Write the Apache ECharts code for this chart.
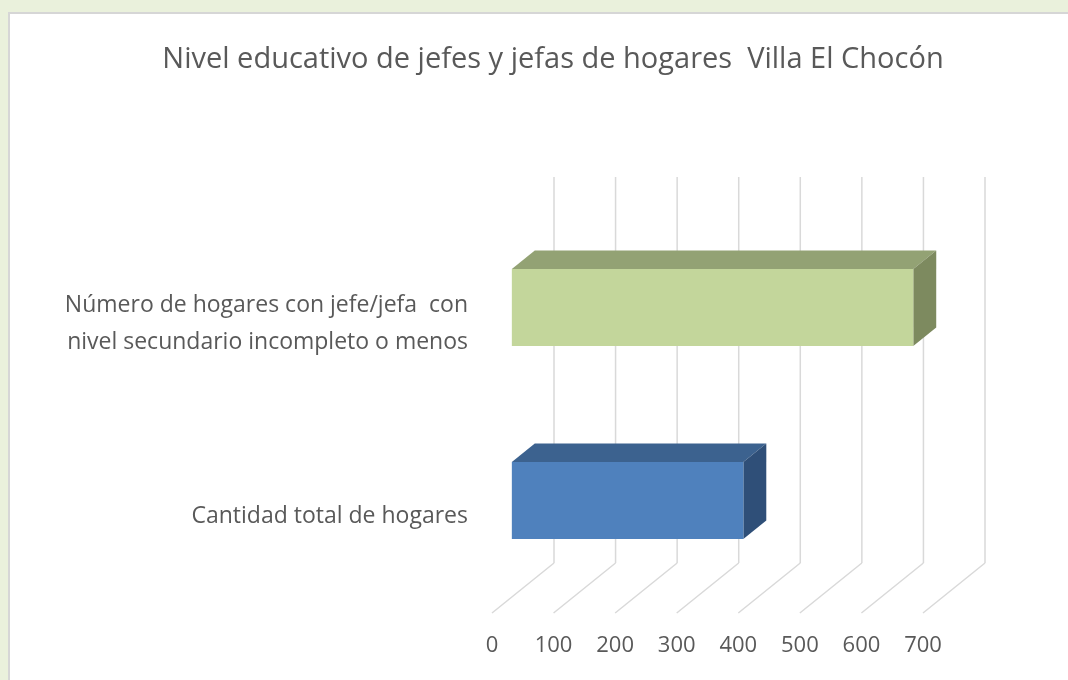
<!DOCTYPE html>
<html>
<head>
<meta charset="utf-8">
<script src="https://cdn.jsdelivr.net/npm/echarts@6/dist/echarts.min.js"></script>
<style>
    html, body {
        margin: 0;
        padding: 0;
        background: #eaf1dc;
    }
    #frame {
        position: absolute;
        left: 8px;
        top: 12px;
        width: 1080px;
        height: 680px;
        background: #fff;
        border: 2px solid #d6d6d6;
    }
    #chart {
        position: absolute;
        left: 0;
        top: 0;
        width: 1068px;
        height: 680px;
    }
</style>
</head>
<body>
<div id="frame"></div>
<div id="chart"></div>
<script>
    // datos
    var categorias = ['Cantidad total de hogares', 'Número de hogares con jefe/jefa  con\nnivel secundario incompleto o menos'];
    var valores = [376, 652];
    var ticks = [0, 100, 200, 300, 400, 500, 600, 700];

    var caraFrente = ['#4f81bd', '#c3d69b'];
    var caraArriba = ['#3c628f', '#93a274'];
    var caraLado = ['#2f4f78', '#7d8a5f'];

    // profundidad de la vista 3D (del frente al fondo)
    var DX = 62, DY = -50;
    var BAR_FRONT = 0.32, BAR_BACK = 0.69;

    var myChart = echarts.init(document.getElementById('chart'));

    function renderGrilla(params, api) {
        var cs = params.coordSys;
        var x = api.coord([api.value(0), 0])[0];
        var bottom = cs.y + cs.height;
        var style = {stroke: '#d9d9d9', lineWidth: 1.5, fill: null};
        return {
            type: 'group',
            children: [{
                type: 'line',
                shape: {x1: x + DX, y1: cs.y + DY, x2: x + DX, y2: bottom + DY},
                style: style
            }, {
                type: 'line',
                shape: {x1: x + DX, y1: bottom + DY, x2: x, y2: bottom},
                style: style
            }]
        }
    }

    function renderBarra(params, api) {
        var cat = api.value(1);
        var p0 = api.coord([0, cat]);
        var p1 = api.coord([api.value(0), cat]);
        var h = api.size([0, 1])[1] * 0.4;
        var fx = DX * BAR_FRONT, fy = DY * BAR_FRONT;
        var bx = DX * BAR_BACK, by = DY * BAR_BACK;
        var top = p0[1] - h / 2, bot = p0[1] + h / 2;
        var i = params.dataIndex;
        return {
            type: 'group',
            children: [{
                type: 'polygon',
                shape: {points: [[p0[0] + fx, top + fy], [p1[0] + fx, top + fy], [p1[0] + bx, top + by], [p0[0] + bx, top + by]]},
                style: {fill: caraArriba[i]}
            }, {
                type: 'polygon',
                shape: {points: [[p1[0] + fx, top + fy], [p1[0] + bx, top + by], [p1[0] + bx, bot + by], [p1[0] + fx, bot + fy]]},
                style: {fill: caraLado[i]}
            }, {
                type: 'rect',
                shape: {x: p0[0] + fx, y: top + fy, width: p1[0] - p0[0], height: h},
                style: {fill: caraFrente[i]}
            }]
        }
    }

    var option = {
        animation: false,
        title: {
            text: 'Nivel educativo de jefes y jefas de hogares  Villa El Chocón',
            left: 548,
            textAlign: 'center',
            top: 40,
            textStyle: {
                fontFamily: 'Open Sans',
                fontWeight: 'normal',
                fontSize: 29,
                color: '#595959'
            }
        },
        grid: {
            left: 492,
            right: 145,
            top: 227,
            bottom: 67
        },
        xAxis: {
            type: 'value',
            min: 0,
            max: 700,
            interval: 100,
            axisLine: {show: false},
            axisTick: {show: false},
            splitLine: {show: false},
            axisLabel: {
                margin: 22,
                fontFamily: 'Open Sans',
                fontSize: 22,
                color: '#595959'
            }
        },
        yAxis: {
            type: 'category',
            data: categorias,
            axisLine: {show: false},
            axisTick: {show: false},
            axisLabel: {
                margin: 24,
                fontFamily: 'Open Sans',
                fontSize: 23,
                lineHeight: 37,
                color: '#595959'
            }
        },
        series: [{
            type: 'custom',
            renderItem: renderGrilla,
            data: ticks.map(function(t) { return [t]; }),
            z: 1,
            silent: true
        }, {
            type: 'custom',
            renderItem: renderBarra,
            data: valores.map(function(v, i) { return [v, i]; }),
            z: 2
        }]
    }
    myChart.setOption(option)
</script>
</body>
</html>
